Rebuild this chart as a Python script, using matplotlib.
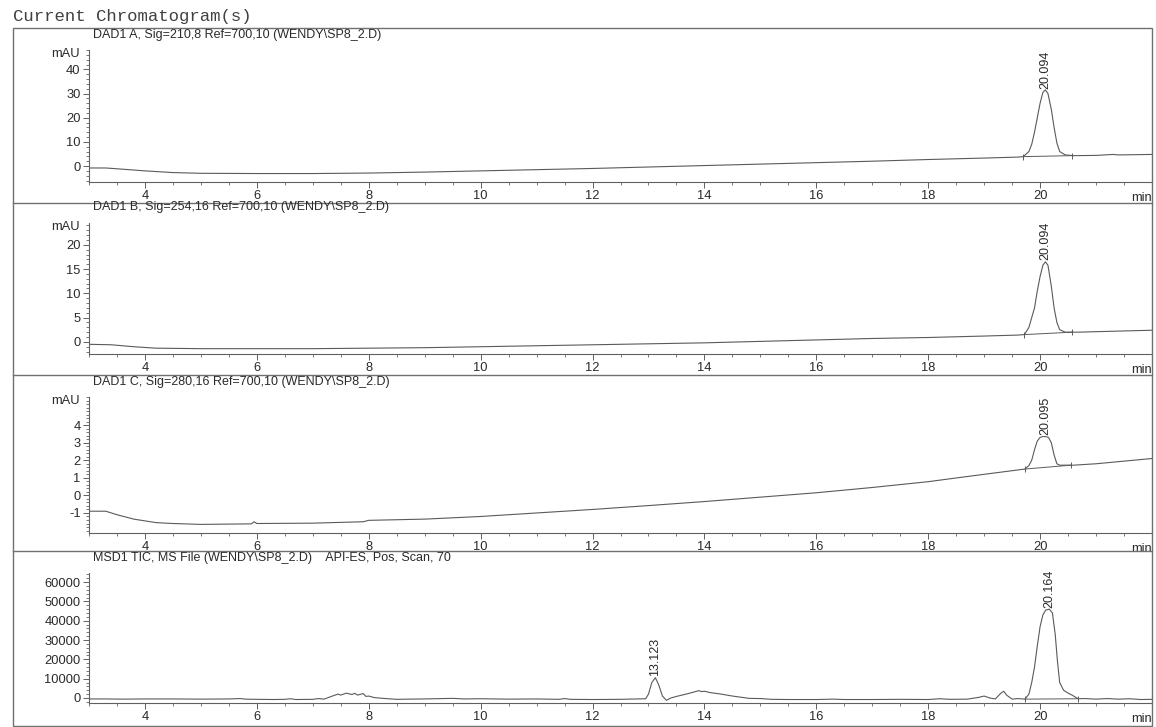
import matplotlib
matplotlib.use("Agg")
import matplotlib.pyplot as plt
from matplotlib.ticker import MultipleLocator, FixedLocator, FuncFormatter
from matplotlib.lines import Line2D
from matplotlib.patches import Rectangle
import numpy as np

# ---------------- data ----------------
header = "Current Chromatogram(s)"
titles = [
    "DAD1 A, Sig=210,8 Ref=700,10 (WENDY\\SP8_2.D)",
    "DAD1 B, Sig=254,16 Ref=700,10 (WENDY\\SP8_2.D)",
    "DAD1 C, Sig=280,16 Ref=700,10 (WENDY\\SP8_2.D)",
    "MSD1 TIC, MS File (WENDY\\SP8_2.D)    API-ES, Pos, Scan, 70",
]
y_units = ["mAU", "mAU", "mAU", ""]
x_major = [4, 6, 8, 10, 12, 14, 16, 18, 20]
x_unit = "min"

time_a = [3.0, 3.3, 3.6, 4.0, 4.5, 5.0, 6.0, 7.0, 8.0, 9.0, 10.0, 11.0, 12.0, 13.0,
          14.0, 15.0, 16.0, 17.0, 18.0, 19.0, 19.6, 19.7, 19.8, 19.85, 19.9, 19.95,
          20.0, 20.05, 20.094, 20.14, 20.2, 20.25, 20.3, 20.35, 20.45, 20.6, 21.0,
          21.3, 21.4, 22.0]
mau_a = [-0.8, -0.8, -1.3, -2.0, -2.7, -3.0, -3.1, -3.1, -2.9, -2.5, -2.0, -1.5, -1.0,
         -0.4, 0.2, 0.8, 1.4, 2.0, 2.7, 3.3, 3.7, 3.9, 6.0, 9.0, 14.0, 20.0,
         26.0, 30.5, 31.5, 30.0, 23.5, 16.0, 9.5, 6.0, 4.6, 4.3, 4.4,
         4.8, 4.6, 4.8]

time_b = [3.0, 3.4, 3.8, 4.2, 5.0, 6.0, 7.0, 8.0, 9.0, 10.0, 11.0, 12.0, 13.0, 14.0,
          15.0, 16.0, 17.0, 18.0, 19.0, 19.6, 19.72, 19.8, 19.9, 19.95, 20.0, 20.05,
          20.094, 20.14, 20.2, 20.25, 20.3, 20.35, 20.45, 20.7, 21.0, 22.0]
mau_b = [-0.5, -0.6, -1.0, -1.3, -1.4, -1.4, -1.4, -1.3, -1.2, -1.0, -0.8, -0.6, -0.4,
         -0.2, 0.1, 0.4, 0.7, 0.9, 1.2, 1.4, 1.5, 3.0, 7.0, 10.5, 13.5, 15.8,
         16.5, 15.8, 11.5, 7.0, 4.0, 2.5, 2.0, 2.0, 2.1, 2.4]

time_c = [3.0, 3.3, 3.5, 3.8, 4.2, 4.5, 5.0, 5.9, 5.95, 6.0, 7.0, 7.9, 8.0, 9.0, 10.0,
          11.0, 12.0, 13.0, 14.0, 15.0, 16.0, 17.0, 18.0, 18.4, 19.0, 19.73, 19.8,
          19.85, 19.9, 19.95, 20.0, 20.05, 20.095, 20.15, 20.2, 20.25, 20.3, 20.35,
          20.6, 21.0, 22.0]
mau_c = [-0.9, -0.9, -1.1, -1.35, -1.55, -1.6, -1.65, -1.62, -1.5, -1.6, -1.58, -1.5,
         -1.42, -1.35, -1.2, -1.0, -0.8, -0.58, -0.35, -0.1, 0.15, 0.45, 0.78, 0.95,
         1.2, 1.5, 1.7, 2.0, 2.6, 3.1, 3.3, 3.35, 3.35, 3.3, 3.0, 2.3, 1.8, 1.72,
         1.72, 1.8, 2.1]

time_d = [3.0, 3.3, 3.6, 4.0, 4.5, 5.0, 5.5, 5.7, 5.8, 6.0, 6.3, 6.5, 6.6, 6.7, 7.0,
          7.1, 7.2, 7.35, 7.45, 7.5, 7.6, 7.7, 7.75, 7.8, 7.9, 7.95, 8.0, 8.1, 8.3,
          8.5, 8.7, 9.0, 9.5, 9.7, 10.0, 10.5, 11.0, 11.4, 11.5, 11.6, 12.0, 12.5,
          12.8, 12.95, 13.0, 13.06, 13.123, 13.18, 13.25, 13.32, 13.4, 13.5, 13.6,
          13.7, 13.8, 13.9, 13.95, 14.0, 14.1, 14.3, 14.5, 14.7, 14.8, 15.0, 15.2,
          15.5, 16.0, 16.3, 16.5, 17.0, 17.5, 18.0, 18.2, 18.4, 18.7, 18.9, 19.0,
          19.1, 19.2, 19.3, 19.35, 19.4, 19.5, 19.6, 19.73, 19.8, 19.85, 19.9, 19.95,
          20.0, 20.05, 20.1, 20.164, 20.22, 20.27, 20.31, 20.35, 20.42, 20.5, 20.57,
          20.68, 20.8, 21.0, 21.2, 21.4, 21.6, 21.8, 22.0]
tic_d = [-500, -500, -600, -500, -500, -600, -500, -300, -600, -700, -800, -700, -400,
         -800, -700, -300, -600, 1000, 2000, 1500, 2500, 1800, 2400, 1500, 2300, 800,
         1000, 200, -300, -700, -600, -500, -200, -500, -400, -600, -500, -700, -300,
         -700, -800, -700, -500, -400, 2000, 8000, 10500, 7000, 1000, -1200, 0, 800,
         1500, 2200, 3000, 3800, 3300, 3500, 2800, 2000, 1000, 200, -200, -300, -700,
         -800, -800, -600, -800, -800, -700, -800, -400, -700, -600, 300, 1000, 0,
         -500, 2500, 3500, 1500, -600, -300, -600, 2000, 8000, 16000, 27000, 37000,
         43000, 45500, 46000, 44000, 33000, 19000, 8000, 4000, 2500, 1500, -400, -300,
         -600, -300, -600, -400, -800, -700]

# integration baselines: (start time, start value, end time, end value)
integ_a = (19.70, 3.9, 20.57, 4.3)
integ_b = (19.72, 1.5, 20.57, 2.0)
integ_c = (19.73, 1.5, 20.55, 1.72)
integ_d = (19.73, -600, 20.68, -400)

# peak labels: (retention time, apex value, text)
peaks_a = [(20.094, 31.5, "20.094")]
peaks_b = [(20.094, 16.5, "20.094")]
peaks_c = [(20.095, 3.35, "20.095")]
peaks_d = [(13.123, 10500, "13.123"), (20.164, 46000, "20.164")]

ylims = [(-6.6, 48), (-2.5, 24.5), (-2.14, 5.6), (-2600, 64700)]
y_major_ticks = [[0, 10, 20, 30, 40], [0, 5, 10, 15, 20], [-1, 0, 1, 2, 3, 4],
                 [0, 10000, 20000, 30000, 40000, 50000, 60000]]
y_minor = [2, 1, 0.2, 2000]

# ---------------- drawing ----------------
W, H = 1156, 727
fig = plt.figure(figsize=(W / 100, H / 100), dpi=100)
fig.patch.set_facecolor("white")

LINE = "#5a5a5a"
TXT = "#2a2a2a"
AX = "#606060"
SANS = ["Liberation Sans", "DejaVu Sans"]

def rect(top, bottom, left=89, right=1152):
    return [left / W, 1 - bottom / H, (right - left) / W, (bottom - top) / H]

panel_px = [(50, 182), (223, 354), (397, 533), (573, 703)]
title_px = [35, 207, 382, 558]
sep_px = [203, 375, 551]

series = [(time_a, mau_a), (time_b, mau_b), (time_c, mau_c), (time_d, tic_d)]
integs = [integ_a, integ_b, integ_c, integ_d]
peaks = [peaks_a, peaks_b, peaks_c, peaks_d]

for i in range(4):
    ax = fig.add_axes(rect(*panel_px[i]))
    ax.set_facecolor("none")
    t, y = series[i]
    ax.plot(t, y, color=LINE, lw=0.8)
    s0, v0, s1, v1 = integs[i]
    ax.plot([s0, s1], [v0, v1], color=LINE, lw=0.7)
    ax.plot([s0, s1], [v0, v1], ls="none", marker="|", ms=4, mew=0.7, color=LINE)
    for rt, ap, lab in peaks[i]:
        ax.annotate(lab, xy=(rt, ap), xytext=(0, 1), textcoords="offset points",
                    rotation=90, ha="center", va="bottom", fontsize=9,
                    family=SANS, color=TXT)
    ax.set_xlim(3, 22)
    ax.set_ylim(*ylims[i])
    for s in ("top", "right"):
        ax.spines[s].set_visible(False)
    for s in ("left", "bottom"):
        ax.spines[s].set_color(AX)
        ax.spines[s].set_linewidth(0.8)
    ax.xaxis.set_major_locator(FixedLocator(x_major))
    ax.xaxis.set_minor_locator(MultipleLocator(0.5))
    ax.yaxis.set_major_locator(FixedLocator(y_major_ticks[i]))
    ax.yaxis.set_minor_locator(MultipleLocator(y_minor[i]))
    ax.tick_params(axis="both", which="major", direction="out", length=4,
                   width=0.7, color=AX, labelsize=9.3, labelcolor=TXT, pad=2)
    ax.tick_params(axis="both", which="minor", direction="out", length=2.5,
                   width=0.6, color=AX)
    ax.tick_params(axis="x", which="major", pad=1.5)
    ax.yaxis.set_major_formatter(FuncFormatter(lambda v, p: "%g" % v if abs(v) < 1000 else "%d" % v))
    for lbl in ax.get_xticklabels() + ax.get_yticklabels():
        lbl.set_family(SANS)
    if y_units[i]:
        ax.annotate(y_units[i], xy=(0, 1), xycoords="axes fraction", xytext=(-7, -3),
                    textcoords="offset points", ha="right", va="center",
                    fontsize=9.3, family=SANS, color=TXT)
    ax.annotate(x_unit, xy=(1, 0), xycoords="axes fraction", xytext=(0, -7),
                textcoords="offset points", ha="right", va="top",
                fontsize=9.3, family=SANS, color=TXT)
    fig.text(93 / W, 1 - title_px[i] / H, titles[i], ha="left", va="center",
             fontsize=9, family=SANS, color=TXT)

# frame and separators
fig.patches.append(Rectangle((13 / W, 1 - 726 / H), (1152 - 13) / W, (726 - 28) / H,
                             transform=fig.transFigure, fill=False, ec="#707070", lw=1.0))
for yp in sep_px:
    fig.add_artist(Line2D([13 / W, 1152 / W], [1 - yp / H, 1 - yp / H],
                          transform=fig.transFigure, color="#707070", lw=1.0))

fig.text(13 / W, 1 - 17 / H, header, ha="left", va="center", fontsize=12.4,
         family=["Liberation Mono", "DejaVu Sans Mono"], color="#404040")

fig.savefig("out.png", dpi=100, facecolor="white")
